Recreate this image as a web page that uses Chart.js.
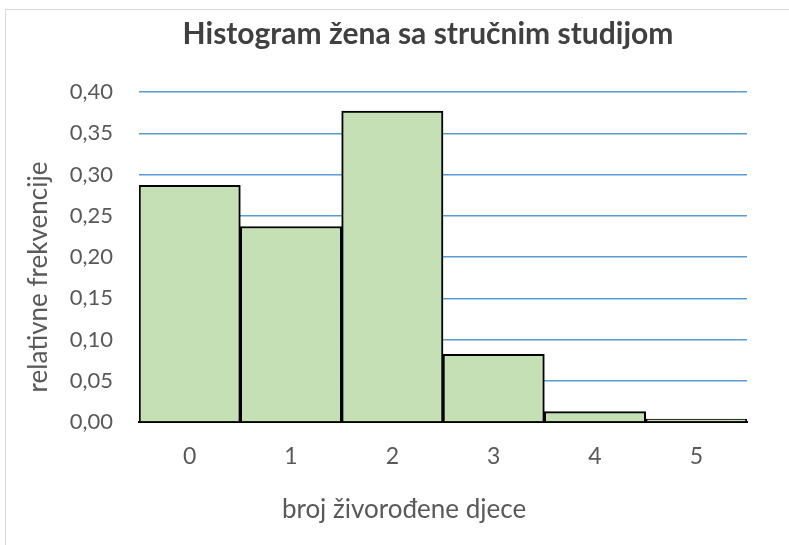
<!DOCTYPE html>
<html lang="hr">
<head>
<meta charset="UTF-8">
<title>Histogram žena sa stručnim studijom</title>
<style>
    body { margin: 0; background: #fff; }
    .frame { position: absolute; left: 5px; top: 9px; width: 800px; height: 600px; border: 1px solid #d9d9d9; }
    #chart { position: absolute; left: 0; top: 0; }
</style>
</head>
<body>
<div class="frame"></div>
<canvas id="chart" width="789" height="545"></canvas>
<script src="https://cdn.jsdelivr.net/npm/chart.js"></script>
<script>
    const categories = ['0', '1', '2', '3', '4', '5'];
    const relFreq = [0.287, 0.237, 0.377, 0.082, 0.0125, 0.0036];
    const yTicks = [0, 0.05, 0.10, 0.15, 0.20, 0.25, 0.30, 0.35, 0.40];
    const chartTitle = 'Histogram žena sa stručnim studijom';
    const xTitle = 'broj živorođene djece';
    const yTitle = 'relativne frekvencije';

    const font = 'Lato, "Open Sans", sans-serif';

    // titles placed like in the Excel original (not centred on the plot)
    const titlePlugin = {
        id: 'titles',
        afterDraw(chart) {
            const c = chart.ctx;
            c.save();
            c.textAlign = 'center';
            c.textBaseline = 'alphabetic';

            c.font = 'bold 30px ' + font;
            c.fillStyle = '#404040';
            c.fillText(chartTitle, 428, 44);

            c.font = '26px ' + font;
            c.fillStyle = '#595959';
            c.fillText(xTitle, 404, 518);

            c.translate(47, 277);
            c.rotate(-Math.PI / 2);
            c.fillText(yTitle, 0, 0);
            c.restore();
        }
    };

    const ctx = document.getElementById('chart').getContext('2d');
    new Chart(ctx, {
        type: 'bar',
        data: {
            labels: categories,
            datasets: [{
                data: relFreq,
                backgroundColor: '#c5e0b4',
                borderColor: '#000',
                borderWidth: 2,
                categoryPercentage: 1,
                barPercentage: 1
            }]
        },
        options: {
            responsive: false,
            animation: false,
            layout: { padding: { left: 0, right: 42, top: 92, bottom: 0 } },
            plugins: {
                legend: { display: false },
                tooltip: { enabled: false },
                title: { display: false }
            },
            scales: {
                x: {
                    grid: { display: false, drawTicks: false },
                    border: { display: true, color: '#000', width: 2 },
                    ticks: { color: '#595959', font: { family: font, size: 23 }, padding: 21 },
                    afterFit: s => { s.height = 123; }
                },
                y: {
                    min: 0,
                    max: 0.4,
                    afterBuildTicks: s => { s.ticks = yTicks.map(v => ({ value: v })); },
                    grid: {
                        drawTicks: false,
                        color: c => c.tick && c.tick.value === 0 ? 'rgba(0,0,0,0)' : '#5b9bd5',
                        lineWidth: 1.5
                    },
                    border: { display: false },
                    ticks: {
                        color: '#595959',
                        font: { family: font, size: 22 },
                        padding: 26,
                        callback: v => Number(v).toFixed(2).replace('.', ',')
                    },
                    afterFit: s => { s.width = 139; }
                }
            }
        },
        plugins: [titlePlugin]
    });
</script>
</body>
</html>
